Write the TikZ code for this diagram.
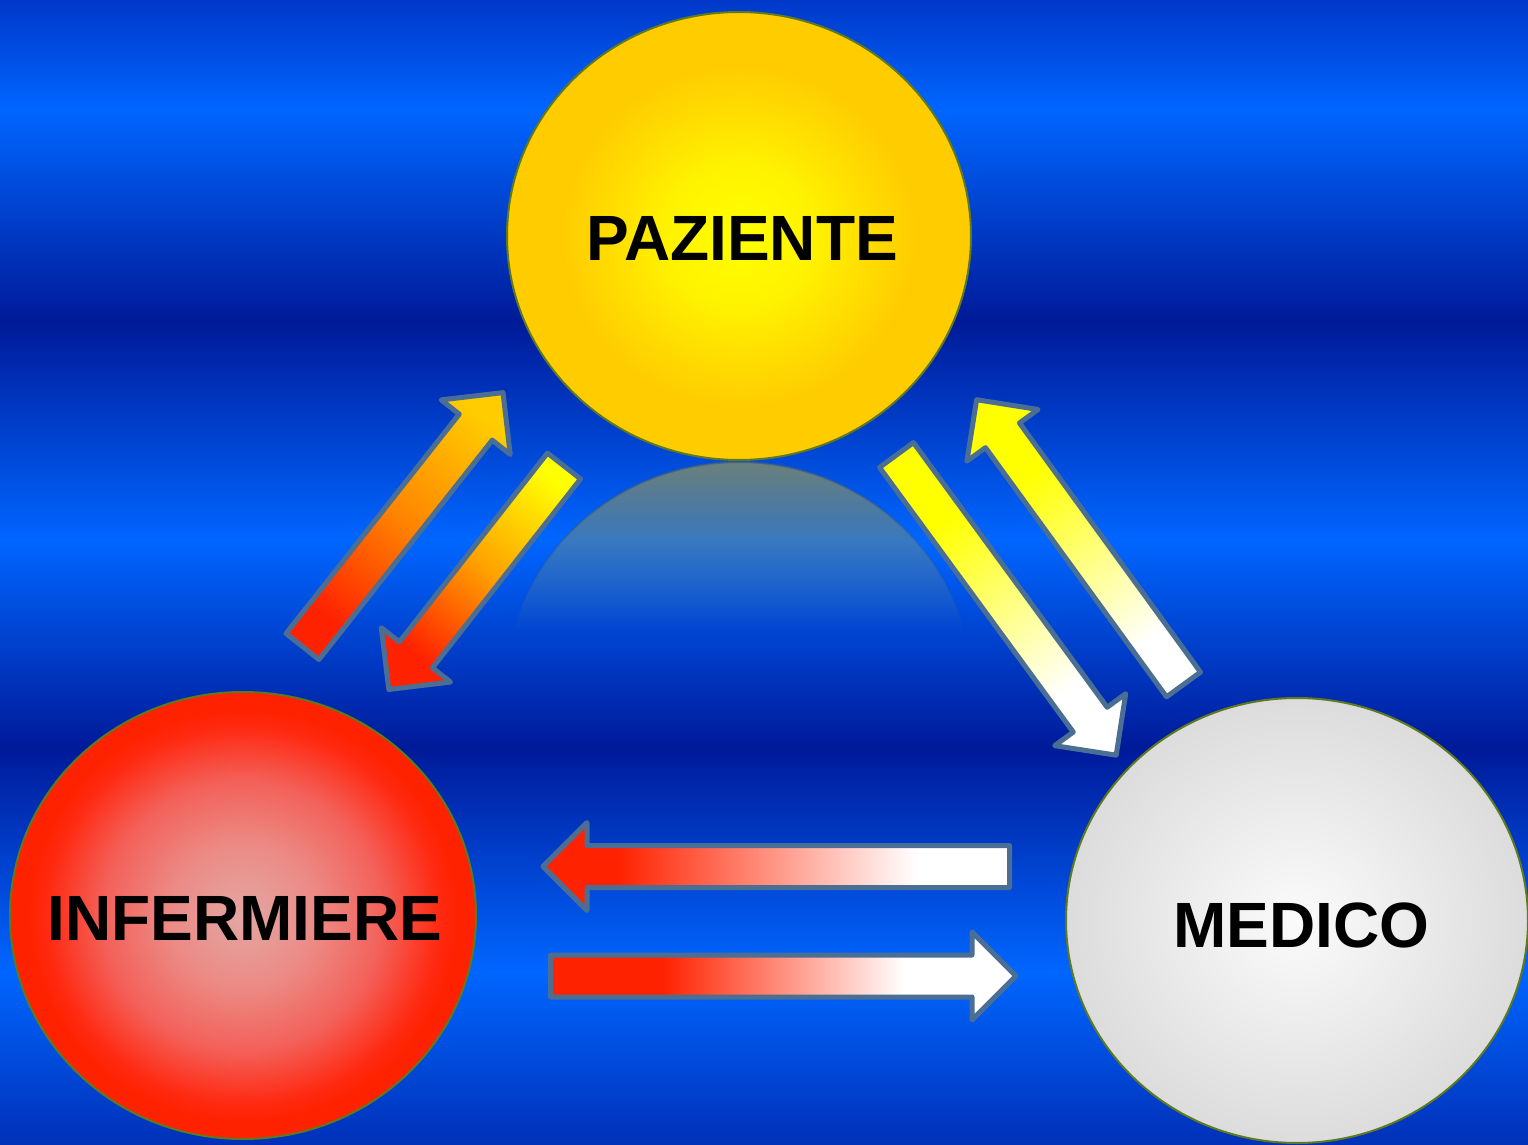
\documentclass[tikz,border=0pt]{standalone}
\usepackage{fontspec}
\setmainfont{Liberation Sans}
\usetikzlibrary{shapes.geometric,fadings}

\definecolor{bgtop}{HTML}{0038C8}
\definecolor{bgbright}{HTML}{0066FF}
\definecolor{bgdark}{HTML}{001A99}
\definecolor{bgbot}{HTML}{0030B8}
\definecolor{pazc}{HTML}{FFFF00}
\definecolor{pazcb}{HTML}{FFF200}
\definecolor{pazcc}{HTML}{FFE000}
\definecolor{paze}{HTML}{FFCC00}
\definecolor{infc}{HTML}{E3A7A4}
\definecolor{infcb}{HTML}{EC8A85}
\definecolor{infcc}{HTML}{F3615A}
\definecolor{infcd}{HTML}{FF2A12}
\definecolor{infe}{HTML}{FF2200}
\definecolor{medc}{HTML}{FBFBFB}
\definecolor{mede}{HTML}{DCDCDC}
\definecolor{ared}{HTML}{FF2200}
\definecolor{aorange}{HTML}{FF8400}
\definecolor{aorangeb}{HTML}{FFA000}
\definecolor{agold}{HTML}{FFCC00}
\definecolor{ayel}{HTML}{FFFF00}
\definecolor{awhite}{HTML}{FFFFFF}
\definecolor{astroke}{HTML}{4B6F94}
\definecolor{cborder}{HTML}{5F7A1E}
\definecolor{reflcol}{HTML}{A39D4B}
\definecolor{refledge}{HTML}{2E5A90}

\pgfdeclareverticalshading{bgshade}{100bp}{color(0bp)=(bgbot); color(25bp)=(bgbot); color(32.6bp)=(bgbright); color(42.34bp)=(bgdark); color(51.42bp)=(bgbright); color(60.98bp)=(bgdark); color(70.2bp)=(bgbright); color(75bp)=(bgtop); color(100bp)=(bgtop)}
\pgfdeclareradialshading{pazshade}{\pgfpoint{0bp}{0bp}}{color(0bp)=(pazc); color(8bp)=(pazcb); color(13bp)=(pazcc); color(19bp)=(paze); color(50bp)=(paze)}
\pgfdeclareradialshading{infshade}{\pgfpoint{0bp}{0bp}}{color(0bp)=(infc); color(8bp)=(infcb); color(15bp)=(infcc); color(21bp)=(infcd); color(23bp)=(infe); color(50bp)=(infe)}
\pgfdeclareradialshading{medshade}{\pgfpoint{0bp}{0bp}}{color(0bp)=(medc); color(25bp)=(mede); color(50bp)=(mede)}
\pgfdeclarehorizontalshading{shA}{100bp}{color(0bp)=(ared); color(31bp)=(ared); color(50bp)=(aorange); color(70bp)=(agold); color(100bp)=(agold)}
\pgfdeclarehorizontalshading{shB}{100bp}{color(0bp)=(ayel); color(28bp)=(ayel); color(48bp)=(aorangeb); color(67bp)=(ared); color(100bp)=(ared)}
\pgfdeclarehorizontalshading{shC}{100bp}{color(0bp)=(ayel); color(36bp)=(ayel); color(64bp)=(awhite); color(100bp)=(awhite)}
\pgfdeclarehorizontalshading{shD}{100bp}{color(0bp)=(awhite); color(33bp)=(awhite); color(62bp)=(ayel); color(100bp)=(ayel)}
\pgfdeclarehorizontalshading{shE}{100bp}{color(0bp)=(awhite); color(35bp)=(awhite); color(67bp)=(ared); color(100bp)=(ared)}
\pgfdeclarehorizontalshading{shF}{100bp}{color(0bp)=(ared); color(37bp)=(ared); color(63bp)=(awhite); color(100bp)=(awhite)}

\tikzfading[name=reflfade, top color=transparent!25, bottom color=transparent!100]

\tikzset{
  circ/.style={ellipse, inner sep=0pt, draw=cborder, line width=1pt, shade},
  lbl/.style={inner sep=0pt, font=\bfseries\fontsize{32}{36}\selectfont, text=black},
  arrowline/.style={draw=astroke, line width=2.5pt, line join=round},
}

\newcommand\blockarr[4]{%
  \begin{scope}[transform canvas={shift={(#1)},rotate=#2}]
    \shadedraw[shading=#4, arrowline] (0,-21) -- ({#3-44},-21) -- ({#3-44},-44) -- (#3,0)
      -- ({#3-44},44) -- ({#3-44},21) -- (0,21) -- cycle;
  \end{scope}}

\begin{document}
\begin{tikzpicture}[x=0.5pt,y=-0.5pt]
  \useasboundingbox (0,0) rectangle (1528,1145);
  \shade[shading=bgshade] (0,0) rectangle (1528,1145);

  % reflection under PAZIENTE
  \path[fill=reflcol, draw=refledge, line width=1pt, path fading=reflfade]
    (963.6,630) arc[start angle=-14.5, end angle=-165.5, x radius=232, y radius=224] -- cycle;

  % circles
  \node[circ, minimum width=232pt, minimum height=224pt, shading=pazshade] (paz) at (739,236) {};
  \node[circ, minimum width=233pt, minimum height=223.5pt, shading=infshade] (inf) at (243,915.5) {};
  \node[circ, minimum width=231pt, minimum height=222.5pt, shading=medshade] (med) at (1297,920.5) {};

  % labels
  \node[lbl] (pazt) at (742,238.5) {PAZIENTE};
  \node[lbl] (inft) at (245,918) {INFERMIERE};
  \node[lbl] (medt) at (1301,925) {MEDICO};

  % arrow tails
  \coordinate (a1) at (302.5,646.5);
  \coordinate (a2) at (564,466);
  \coordinate (a3) at (896.5,455);
  \coordinate (a4) at (1183.5,684.5);
  \coordinate (a5) at (1009.5,866.5);
  \coordinate (a6) at (550.5,976);

  \blockarr{a1}{51.7}{323.5}{shA}
  \blockarr{a2}{-128.1}{284}{shB}
  \blockarr{a3}{-53.8}{372}{shC}
  \blockarr{a4}{126.0}{352}{shD}
  \blockarr{a5}{180}{466.5}{shE}
  \blockarr{a6}{0}{465.5}{shF}
\end{tikzpicture}
\end{document}
